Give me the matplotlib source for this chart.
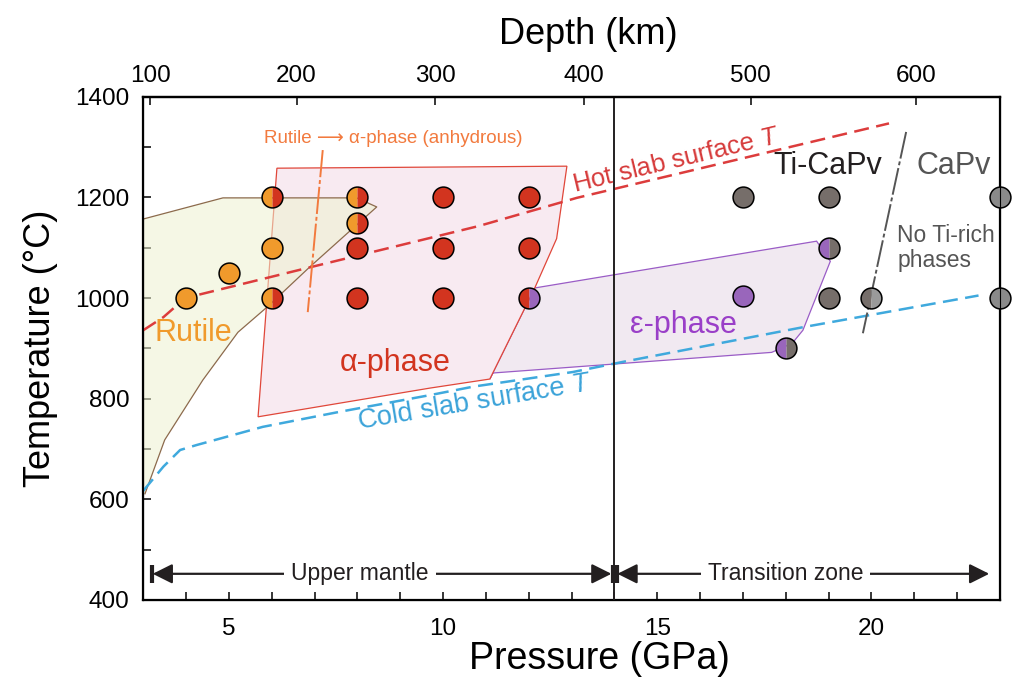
import matplotlib.pyplot as plt
import numpy as np

# ---- data ----
# Experimental run conditions (P in GPa, T in deg C)
rutile_P = [4.0, 5.0, 6.0]
rutile_T = [1000, 1050, 1100]
alpha_P = [10, 12, 8, 10, 12, 8, 10]
alpha_T = [1200, 1200, 1100, 1100, 1100, 1000, 1000]
rut_alpha_P = [6.0, 8.0, 8.0, 6.0]          # rutile + alpha-phase (half/half)
rut_alpha_T = [1200, 1200, 1150, 1000]
alpha_eps_P = [12.0]
alpha_eps_T = [1000]
eps_P = [17.0]
eps_T = [1005]
eps_ticapv_P = [19.0, 18.0]
eps_ticapv_T = [1100, 900]
ticapv_P = [17.0, 19.0, 19.0]
ticapv_T = [1200, 1200, 1000]
ticapv_capv_P = [20.0]
ticapv_capv_T = [1000]
capv_P = [23.0, 23.0]
capv_T = [1200, 1000]

# phase field outlines
rutile_field_P = [3.0, 3.0, 4.86, 7.98, 8.45, 6.89, 5.89, 5.21, 4.39, 3.5, 3.04, 3.0]
rutile_field_T = [611, 1157, 1199, 1199, 1181, 1062, 982, 932, 837, 718, 611, 611]
alpha_field_P = [6.12, 12.89, 12.65, 12.14, 11.09, 9.69, 5.68]
alpha_field_T = [1258, 1262, 1118, 1020, 839, 821, 764]
eps_field_P = [12.14, 18.72, 19.04, 18.4, 18.15, 17.67, 11.16, 11.09, 12.14]
eps_field_T = [1020, 1113, 1073, 936, 910, 892, 851, 839, 1020]

# slab surface geotherms
hot_P = [3.0, 3.47, 3.98, 6.89, 10.83, 13.12, 20.41]
hot_T = [936, 962, 1000, 1061, 1143, 1199, 1347]
cold_P = [3.0, 3.47, 3.86, 4.25, 5.79, 7.59, 9.69, 10.71, 13.03, 14.19, 18.4, 22.5]
cold_T = [617, 665, 698, 708, 744, 774, 807, 824, 853, 873, 942, 1005]

# phase boundaries
rut_bound_P = [7.19, 6.84]
rut_bound_T = [1294, 972]
capv_bound_P = [20.81, 19.8]
capv_bound_T = [1330, 930]

# top axis: depth (km) and the pressure it sits at
depth_labels = [100, 200, 300, 400, 500, 600]
depth_P = [3.16, 6.58, 9.81, 13.28, 17.18, 21.05]

ORANGE = '#f09a2c'
RED = '#d2341f'
PURPLE = '#9966bb'
TIGRAY = '#766e6a'
LGRAY = '#8a8a8a'
DARK = '#231f20'

plt.rcParams['font.family'] = ['Liberation Sans', 'DejaVu Sans']
plt.rcParams['mathtext.fontset'] = 'custom'
plt.rcParams['mathtext.it'] = 'Liberation Sans:italic'

fig = plt.figure(figsize=(10.33, 6.86), dpi=100, facecolor='white')
ax = fig.add_axes([0.1387, 0.1254, 0.8293, 0.7336])
ax.set_xlim(3, 23)
ax.set_ylim(400, 1400)

# phase fields
ax.fill(eps_field_P, eps_field_T, facecolor='#f1e9f1', edgecolor='#9a5cc6', lw=0.9, zorder=1)
ax.fill(alpha_field_P, alpha_field_T, facecolor='#f8eaf1', edgecolor='#e0473a', lw=0.9, zorder=1)
ax.fill(rutile_field_P, rutile_field_T, facecolor='#eef2d0', edgecolor='none', alpha=0.55,
        zorder=2)
ax.plot(rutile_field_P[1:-1], rutile_field_T[1:-1], color='#8c6a4c', lw=0.9, zorder=2)

# geotherms and boundaries
ax.plot(hot_P, hot_T, color='#dc3c3c', lw=1.8, dashes=(6, 3), zorder=3)
ax.plot(cold_P, cold_T, color='#3fa9dd', lw=1.8, dashes=(6, 3), zorder=3)
ax.plot(rut_bound_P, rut_bound_T, color='#f27a3e', lw=1.4, dashes=(14, 1.5, 2, 1.5), zorder=3)
ax.plot(capv_bound_P, capv_bound_T, color='#555555', lw=1.4, dashes=(14, 1.5, 2, 1.5), zorder=3)
ax.axvline(14, color=DARK, lw=1.4, zorder=3)

# experiment points
mk = dict(marker='o', ls='none', ms=15, mec='black', mew=1.1, zorder=6, clip_on=False)
ax.plot(rutile_P, rutile_T, mfc=ORANGE, **mk)
ax.plot(alpha_P, alpha_T, mfc=RED, **mk)
ax.plot(eps_P, eps_T, mfc=PURPLE, **mk)
ax.plot(ticapv_P, ticapv_T, mfc=TIGRAY, **mk)
ax.plot(capv_P, capv_T, mfc=LGRAY, **mk)


def half_points(P, T, left, right):
    # two-colour symbol: fill halves without the dividing edge, then the outline
    ax.plot(P, T, marker='o', ls='none', ms=15, fillstyle='left', mfc=left, mfcalt=right,
            mec='none', zorder=6, clip_on=False)
    ax.plot(P, T, marker='o', ls='none', ms=15, mfc='none', mec='black', mew=1.1,
            zorder=7, clip_on=False)


half_points(rut_alpha_P, rut_alpha_T, ORANGE, RED)
half_points(alpha_eps_P, alpha_eps_T, RED, PURPLE)
half_points(eps_ticapv_P, eps_ticapv_T, PURPLE, TIGRAY)
half_points(ticapv_capv_P, ticapv_capv_T, TIGRAY, '#9a9a9a')

# labels in the plot
ax.text(3.27, 930, 'Rutile', color=ORANGE, fontsize=22, va='center', ha='left')
ax.text(8.87, 871, 'α-phase', color=RED, fontsize=22, va='center', ha='center')
ax.text(15.62, 946, 'ε-phase', color='#9a3fc8', fontsize=22, va='center', ha='center')
ax.text(18.98, 1262, 'Ti-CaPv', color=DARK, fontsize=22, va='center', ha='center')
ax.text(21.92, 1262, 'CaPv', color='#555555', fontsize=22, va='center', ha='center')
ax.text(20.6, 1100, 'No Ti-rich\nphases', color='#555555', fontsize=16.5, va='center',
        ha='left', linespacing=1.1)
ax.text(5.82, 1316, 'Rutile ⟶ α-phase (anhydrous)', color='#f27a3e', fontsize=13.5,
        va='center', ha='left')
ax.text(15.45, 1274, 'Hot slab surface $T$', color='#d63a3a', fontsize=18.5,
        va='center', ha='center', rotation=13.5, rotation_mode='anchor')
ax.text(10.74, 793, 'Cold slab surface $T$', color='#3ba3d9', fontsize=19.5,
        va='center', ha='center', rotation=9.5, rotation_mode='anchor')

# mantle region arrows
AY = 452
head = 'head_length=1.2,head_width=0.6'
ax.annotate('', xy=(3.22, AY), xytext=(13.93, AY), zorder=4,
            arrowprops=dict(arrowstyle='<|-|>,' + head, color=DARK, lw=1.6,
                            shrinkA=0, shrinkB=0))
ax.annotate('', xy=(14.07, AY), xytext=(22.75, AY), zorder=4,
            arrowprops=dict(arrowstyle='<|-|>,' + head, color=DARK, lw=1.6,
                            shrinkA=0, shrinkB=0))
ax.plot([3.2, 13.955, 14.05], [AY, AY, AY], ls='none', marker='|', ms=13, mew=3,
        color=DARK, zorder=5)
box = dict(facecolor='white', edgecolor='none', pad=5)
ax.text(8.06, AY, 'Upper mantle', color=DARK, fontsize=16.5,
        ha='center', va='center', bbox=box, zorder=5)
ax.text(18.0, AY, 'Transition zone', color=DARK, fontsize=16.5,
        ha='center', va='center', bbox=box, zorder=5)

# axes, ticks
ax.set_xticks([5, 10, 15, 20])
ax.set_xticks(np.arange(4, 23, 1), minor=True)
ax.set_yticks([400, 600, 800, 1000, 1200, 1400])
ax.set_yticks(np.arange(500, 1400, 200), minor=True)
ax.tick_params(which='both', direction='in', length=6, width=1.1, labelsize=17.5,
               top=False, right=False)
ax.tick_params(axis='x', pad=13)
ax.tick_params(axis='y', pad=10)
for s in ax.spines.values():
    s.set_linewidth(1.6)
ax.set_xlabel('Pressure (GPa)', fontsize=27, labelpad=1, x=0.533)
ax.set_ylabel('Temperature (°C)', fontsize=26, labelpad=12)

top = ax.twiny()
top.set_xlim(ax.get_xlim())
top.set_xticks(depth_P)
top.set_xticklabels([str(d) for d in depth_labels])
top.tick_params(direction='in', length=6, width=1.1, labelsize=17.5, pad=7)
top.spines['top'].set_linewidth(1.6)
top.set_xlabel('Depth (km)', fontsize=26, labelpad=15, x=0.519)

fig.savefig('out.png', dpi=100, facecolor='white')
